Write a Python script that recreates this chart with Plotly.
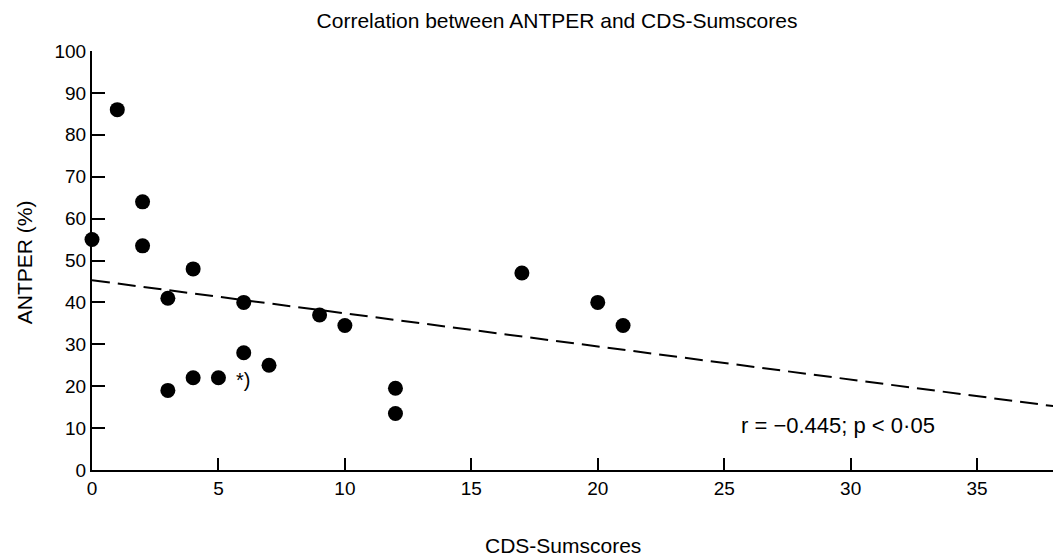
import plotly.graph_objects as go

# Data
cds_scores = [0, 1, 2, 2, 4, 3, 6, 9, 10, 6, 7, 4, 5, 3, 12, 12, 17, 20, 21]
antper = [55, 86, 64, 53.5, 48, 41, 40, 37, 34.5, 28, 25, 22, 22, 19, 19.5, 13.5, 47, 40, 34.5]

# Regression line end points (as drawn)
fit_x = [0, 38.2]
fit_y = [45.3, 15.1]

x_ticks = [0, 5, 10, 15, 20, 25, 30, 35]
y_ticks = [0, 10, 20, 30, 40, 50, 60, 70, 80, 90, 100]

font_family = "Liberation Sans, Arial, sans-serif"

fig = go.Figure()
fig.add_trace(go.Scatter(
    x=fit_x, y=fit_y, mode="lines",
    line=dict(color="black", width=2, dash="18px,8px"),
    showlegend=False, hoverinfo="skip"))
fig.add_trace(go.Scatter(
    x=cds_scores, y=antper, mode="markers",
    marker=dict(color="black", size=15),
    showlegend=False, cliponaxis=False))

fig.add_annotation(x=5.6, y=21.6, text="*)", showarrow=False,
                   xanchor="left", yanchor="middle",
                   font=dict(size=20, color="black", family=font_family))
fig.add_annotation(x=25.6, y=10.6, text="r = \u22120.445; p < 0\u00b705", showarrow=False,
                   xanchor="left", yanchor="middle",
                   font=dict(size=22, color="black", family=font_family))
# axis titles
fig.add_annotation(xref="paper", yref="paper", x=0.488, y=-0.181,
                   text="CDS-Sumscores", showarrow=False,
                   xanchor="center", yanchor="middle",
                   font=dict(size=21, color="black", family=font_family))
fig.add_annotation(xref="paper", yref="paper", x=-0.0704, y=0.496,
                   text="ANTPER (%)", showarrow=False, textangle=-90,
                   xanchor="center", yanchor="middle",
                   font=dict(size=21, color="black", family=font_family))

fig.update_layout(
    width=1053, height=548,
    margin=dict(l=84, r=3, t=43, b=86, autoexpand=False),
    paper_bgcolor="white", plot_bgcolor="white",
    font=dict(family=font_family, color="black", size=19),
    title=dict(text="Correlation between ANTPER and CDS-Sumscores",
               x=0.5214, xanchor="center", y=0.977, yanchor="middle",
               font=dict(size=21, color="black", family=font_family)),
)
fig.update_xaxes(
    range=[0, 38.2], tickvals=x_ticks, ticks="inside", ticklen=12, tickwidth=2,
    tickcolor="black", showline=True, linecolor="black", linewidth=2,
    showgrid=False, zeroline=False, automargin=False,
    tickfont=dict(size=19))
fig.update_yaxes(
    range=[0, 100], tickvals=y_ticks, ticks="inside", ticklen=13, tickwidth=2,
    tickcolor="black", showline=True, linecolor="black", linewidth=2,
    showgrid=False, zeroline=False, automargin=False,
    tickfont=dict(size=19))

fig.write_html("out.html")
